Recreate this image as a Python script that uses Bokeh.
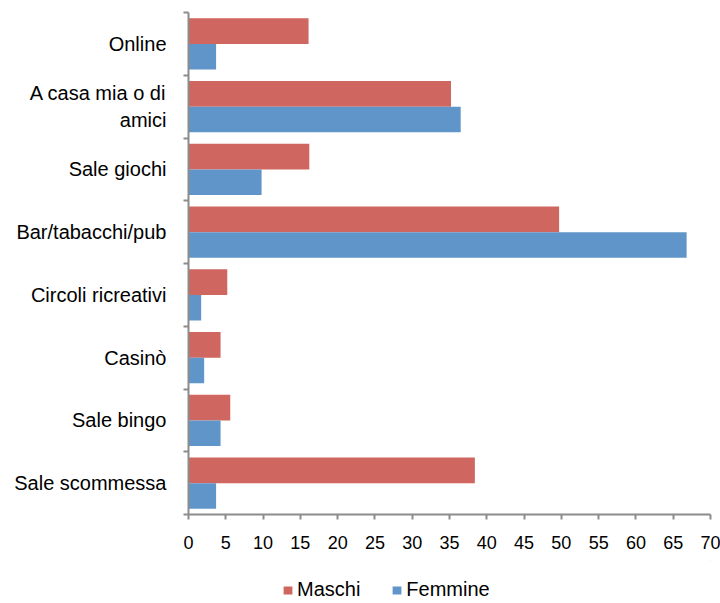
from bokeh.plotting import figure
from bokeh.models import FixedTicker, Legend, LegendItem, Range1d, ColumnDataSource
from bokeh.layouts import column
from bokeh.embed import file_html
from bokeh.resources import INLINE

categories = ["Online", "A casa mia o di\namici", "Sale giochi", "Bar/tabacchi/pub",
              "Circoli ricreativi", "Casinò", "Sale bingo", "Sale scommessa"]
maschi = [16.1, 35.2, 16.2, 49.7, 5.2, 4.3, 5.6, 38.4]
femmine = [3.7, 36.5, 9.8, 66.8, 1.7, 2.1, 4.3, 3.7]
x_ticks = list(range(0, 75, 5))
series_names = ["Maschi", "Femmine"]
colors = ["#CF665F", "#6095C9"]

n = len(categories)
pos = [n - 0.5 - i for i in range(n)]
bar_h = 0.41
off = 0.205

src = ColumnDataSource(data=dict(
    y_m=[p_ + off for p_ in pos],
    y_f=[p_ - off for p_ in pos],
    maschi=maschi,
    femmine=femmine,
))

FONT = "Liberation Sans"
AXIS_COL = "#8C8C8C"
W = 720

p = figure(width=W, height=560, x_range=Range1d(0, 70), y_range=Range1d(0, n),
           output_backend="svg", toolbar_location=None,
           min_border_left=188, min_border_right=10, min_border_top=12, min_border_bottom=46)
p.outline_line_color = None
p.xgrid.visible = False
p.ygrid.visible = False

r_m = p.hbar(y="y_m", right="maschi", left=0, height=bar_h, source=src,
             fill_color=colors[0], line_color=None)
r_f = p.hbar(y="y_f", right="femmine", left=0, height=bar_h, source=src,
             fill_color=colors[1], line_color=None)

# x axis
xa = p.xaxis[0]
xa.ticker = FixedTicker(ticks=x_ticks, minor_ticks=[])
xa.axis_line_color = AXIS_COL
xa.axis_line_width = 2
xa.major_tick_line_color = AXIS_COL
xa.major_tick_line_width = 2
xa.major_tick_out = 5
xa.major_tick_in = 0
xa.major_label_standoff = 16
xa.major_label_text_font = FONT
xa.major_label_text_font_size = "18px"
xa.major_label_text_color = "#000000"

# y axis
ya = p.yaxis[0]
ya.ticker = FixedTicker(ticks=pos, minor_ticks=list(range(0, n + 1)))
ya.major_label_overrides = {pos[i]: categories[i] for i in range(n)}
ya.axis_line_color = AXIS_COL
ya.axis_line_width = 2
ya.major_tick_line_color = None
ya.major_tick_out = 0
ya.major_tick_in = 0
ya.minor_tick_line_color = AXIS_COL
ya.minor_tick_line_width = 2
ya.minor_tick_out = 5
ya.minor_tick_in = 0
ya.major_label_standoff = 17
ya.major_label_text_font = FONT
ya.major_label_text_font_size = "20px"
ya.major_label_text_color = "#000000"

# legend strip (frame is aligned with the main plot's frame by the column layout)
p2 = figure(width=W, height=43, x_range=Range1d(0, 1), y_range=Range1d(0, 1),
            output_backend="svg", toolbar_location=None, min_border=0)
p2.outline_line_color = None
p2.axis.visible = False
p2.grid.visible = False
dummy = ColumnDataSource(data=dict(y=[5.0], l=[5.0], r=[6.0]))
l_m = p2.hbar(y="y", right="r", left="l", height=0.1, source=dummy,
              fill_color=colors[0], line_color=None)
l_f = p2.hbar(y="y", right="r", left="l", height=0.1, source=dummy,
              fill_color=colors[1], line_color=None)
legend = Legend(items=[LegendItem(label=series_names[0], renderers=[l_m]),
                       LegendItem(label=series_names[1], renderers=[l_f])],
                orientation="horizontal", location=(94, 2),
                glyph_width=11, glyph_height=10, label_standoff=4, spacing=31,
                padding=0, margin=0, border_line_color=None,
                background_fill_alpha=0,
                label_text_font=FONT, label_text_font_size="20px",
                label_text_color="#000000")
p2.add_layout(legend, "center")

layout = column(p, p2, spacing=0)
open("out.html", "w").write(file_html(layout, INLINE))
